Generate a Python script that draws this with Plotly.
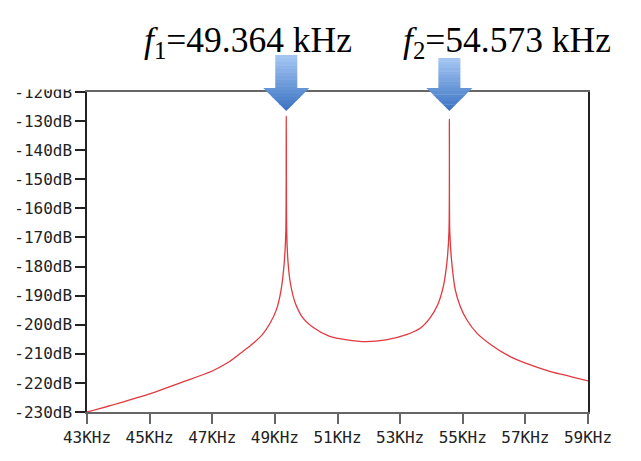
import plotly.graph_objects as go

# ---- data ----
freq_khz = [43.0, 44.0, 45.0, 46.0, 47.0, 47.5, 47.9, 48.25, 48.6, 48.85, 49.05, 49.2,
            49.3, 49.35, 49.364, 49.378, 49.42, 49.5, 49.65, 49.9, 50.25, 50.75, 51.3,
            51.9, 52.55, 53.2, 53.65, 53.95, 54.2, 54.38, 54.5, 54.56, 54.573, 54.586,
            54.64, 54.76, 54.92, 55.13, 55.45, 55.9, 56.4, 57.05, 57.8, 58.45, 59.0]
level_db = [-230.0, -227.0, -223.8, -219.9, -215.9, -213.0, -209.8, -206.9, -203.4, -199.4,
            -194.8, -187.9, -178.5, -168.0, -128.2, -168.0, -178.5, -186.0, -192.5, -197.7,
            -201.1, -204.0, -205.2, -205.8, -205.2, -203.4, -201.1, -197.7, -193.1, -186.8,
            -178.0, -168.0, -129.3, -168.0, -177.6, -187.9, -193.7, -198.3, -202.9, -206.9,
            -210.3, -213.4, -216.1, -217.8, -219.3]

x_ticks = [43, 45, 47, 49, 51, 53, 55, 57, 59]
x_tick_labels = ["43KHz", "45KHz", "47KHz", "49KHz", "51KHz", "53KHz", "55KHz", "57KHz", "59KHz"]
y_ticks = [-230, -220, -210, -200, -190, -180, -170, -160, -150, -140, -130, -120]
y_tick_labels = ["-230dB", "-220dB", "-210dB", "-200dB", "-190dB", "-180dB", "-170dB",
                 "-160dB", "-150dB", "-140dB", "-130dB", "-120dB"]

peak_freqs = [49.364, 54.573]
peak_labels = ["<i>f</i><sub>1</sub>=49.364 kHz", "<i>f</i><sub>2</sub>=54.573 kHz"]

fig = go.Figure()
fig.add_trace(go.Scatter(x=freq_khz, y=level_db, mode="lines",
                         line=dict(color="#e0393e", width=1.3, shape="spline", smoothing=0.8),
                         hoverinfo="skip", showlegend=False))

# ---- block arrows (pixel geometry relative to tip column / plot top) ----
def arrow_slice(ya, yb, shoulder, tip, shaft_hw, head_hw):
    def hw(y):
        if y >= shoulder:
            return shaft_hw
        return head_hw * (y - tip) / (shoulder - tip)
    if ya > shoulder > yb:
        pts = [(shaft_hw, ya), (shaft_hw, shoulder), (head_hw, shoulder), (hw(yb), yb),
               (-hw(yb), yb), (-head_hw, shoulder), (-shaft_hw, shoulder), (-shaft_hw, ya)]
    else:
        pts = [(hw(ya), ya), (hw(yb), yb), (-hw(yb), yb), (-hw(ya), ya)]
    return "M " + " L ".join(f"{x:.2f},{y:.2f}" for x, y in pts) + " Z"

def lerp_color(c1, c2, t):
    a = [int(c1[i:i + 2], 16) for i in (1, 3, 5)]
    b = [int(c2[i:i + 2], 16) for i in (1, 3, 5)]
    return "#" + "".join(f"{round(a[k] + (b[k] - a[k]) * t):02x}" for k in range(3))

arrow_tops = [37, 34]
shoulder = 4
tip = -19
nb = 16
for f, top in zip(peak_freqs, arrow_tops):
    edges = [top + (tip - top) * i / nb for i in range(nb + 1)]
    for i in range(nb):
        ya, yb = edges[i], edges[i + 1]
        col = lerp_color("#a6c8f4", "#3a72c2", (i + 0.5) / nb)
        fig.add_shape(type="path", xref="x", yref="paper", xsizemode="pixel", ysizemode="pixel",
                      xanchor=f, yanchor=1,
                      path=arrow_slice(ya, yb - 0.4 if i < nb - 1 else yb, shoulder, tip, 11, 23),
                      fillcolor=col, line=dict(width=0), layer="above")

# label annotations
for txt, xc in zip(peak_labels, [0.3206, 0.839]):
    fig.add_annotation(text=txt, xref="paper", yref="paper", x=xc, y=1, xanchor="center",
                       yanchor="middle", yshift=50, showarrow=False,
                       font=dict(family="Liberation Serif", size=35.5, color="#000000"))

# white cover over the top of the -120dB label (as in reference)
fig.add_shape(type="rect", xref="paper", yref="paper", ysizemode="pixel", yanchor=1,
              x0=-0.18, x1=-0.004, y0=2.5, y1=60, fillcolor="white", line=dict(width=0),
              layer="above")

mono = dict(family="DejaVu Sans Mono", size=16, color="#222222")
fig.update_xaxes(range=[43, 59], tickvals=x_ticks, ticktext=x_tick_labels, showgrid=False,
                 zeroline=False, showline=True, linecolor="#666666", linewidth=2, mirror=True,
                 ticks="outside", ticklen=10, tickwidth=2, tickcolor="#666666", tickfont=mono)
fig.update_yaxes(range=[-230, -120], tickvals=y_ticks, ticktext=y_tick_labels, showgrid=False,
                 zeroline=False, showline=True, linecolor="#222222", linewidth=1.5, mirror=True,
                 ticks="outside", ticklen=10, tickwidth=1.5, tickcolor="#222222", tickfont=mono)
fig.update_layout(width=641, height=461, autosize=False,
                  margin=dict(l=87, r=53, t=92, b=49),
                  paper_bgcolor="white", plot_bgcolor="white", showlegend=False)
fig.write_html("out.html")
